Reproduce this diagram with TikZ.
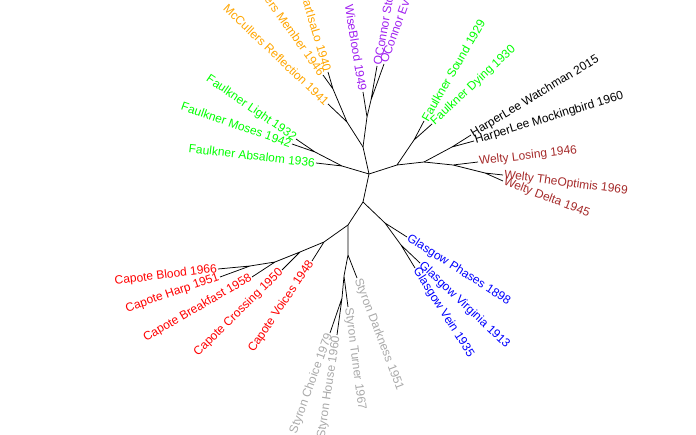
\documentclass[tikz,border=0pt]{standalone}
\usepackage{fontspec}
\setmainfont{Liberation Sans}
\definecolor{mcorange}{HTML}{FFA500}
\definecolor{ocpurple}{HTML}{A020F0}
\definecolor{fkgreen}{HTML}{00FF00}
\definecolor{wtbrown}{HTML}{A52A2A}
\definecolor{gwblue}{HTML}{0000FF}
\definecolor{cpred}{HTML}{FF0000}
\definecolor{stgray}{HTML}{A9A9A9}
\begin{document}
\begin{tikzpicture}[x=1pt,y=-1pt,
	branch/.style={black, line width=0.75pt},
	tiplab/.style={font=\fontsize{12}{14}\selectfont, inner sep=1pt}]
	\useasboundingbox (0,0) rectangle (696,435);
	\clip (0,0) rectangle (696,435);
	
	% 内部结点
	\coordinate (ctr) at (369,174);
	\coordinate (up) at (363,147);
	\coordinate (mc1) at (347,122);
	\coordinate (mc2) at (333,89);
	\coordinate (oc1) at (367,117);
	\coordinate (oc2) at (371,100);
	\coordinate (fk1) at (342,166);
	\coordinate (fk2) at (315,152);
	\coordinate (rt1) at (397,165);
	\coordinate (fk3) at (414,140);
	\coordinate (rt2) at (424,162);
	\coordinate (hl) at (452,147);
	\coordinate (wt1) at (453,165);
	\coordinate (wt2) at (485,173);
	\coordinate (dn) at (363,202);
	\coordinate (gw1) at (385,223);
	\coordinate (gw2) at (401,245);
	\coordinate (dn2) at (348,225);
	\coordinate (cp1) at (324,242);
	\coordinate (cp2) at (300,252);
	\coordinate (cp3) at (275,262);
	\coordinate (cp4) at (250,266);
	\coordinate (st1) at (348,255);
	\coordinate (st2) at (344,276);
	\coordinate (st3) at (342,298);
	
	% 叶结点
	\coordinate (mcRefl) at (328,104);
	\coordinate (mcMemb) at (323,75);
	\coordinate (mcHeart) at (328,72);
	\coordinate (ocWise) at (363,92);
	\coordinate (ocStor) at (377,66);
	\coordinate (ocEver) at (384,64);
	\coordinate (fkAbs) at (316,163);
	\coordinate (fkMos) at (292,144);
	\coordinate (fkLig) at (296,139);
	\coordinate (fkSou) at (424,121);
	\coordinate (fkDyi) at (432,124);
	\coordinate (hlWat) at (471,135);
	\coordinate (hlMock) at (474,141);
	\coordinate (wtLos) at (478,162);
	\coordinate (wtOpt) at (503,175);
	\coordinate (wtDel) at (503,181);
	\coordinate (gwPha) at (407,237);
	\coordinate (gwVir) at (420,263);
	\coordinate (gwVei) at (415,268);
	\coordinate (cpVoi) at (312,261);
	\coordinate (cpCro) at (282,270);
	\coordinate (cpBre) at (252,277);
	\coordinate (cpBlo) at (218,269);
	\coordinate (cpHar) at (220,277);
	\coordinate (stDar) at (357,278);
	\coordinate (stTur) at (348,307);
	\coordinate (stCho) at (330,333);
	\coordinate (stHou) at (337,335);
	
	% 树枝
	\draw[branch] (ctr) -- (up) (ctr) -- (fk1) (ctr) -- (rt1) (ctr) -- (dn);
	\draw[branch] (up) -- (mc1) (mc1) -- (mcRefl) (mc1) -- (mc2) (mc2) -- (mcMemb) (mc2) -- (mcHeart);
	\draw[branch] (up) -- (oc1) (oc1) -- (ocWise) (oc1) -- (oc2) (oc2) -- (ocStor) (oc2) -- (ocEver);
	\draw[branch] (fk1) -- (fkAbs) (fk1) -- (fk2) (fk2) -- (fkMos) (fk2) -- (fkLig);
	\draw[branch] (rt1) -- (fk3) (fk3) -- (fkSou) (fk3) -- (fkDyi) (rt1) -- (rt2);
	\draw[branch] (rt2) -- (hl) (hl) -- (hlWat) (hl) -- (hlMock);
	\draw[branch] (rt2) -- (wt1) (wt1) -- (wtLos) (wt1) -- (wt2) (wt2) -- (wtOpt) (wt2) -- (wtDel);
	\draw[branch] (dn) -- (gw1) (gw1) -- (gwPha) (gw1) -- (gw2) (gw2) -- (gwVir) (gw2) -- (gwVei);
	\draw[branch] (dn) -- (dn2) (dn2) -- (cp1) (cp1) -- (cpVoi) (cp1) -- (cp2) (cp2) -- (cpCro)
		(cp2) -- (cp3) (cp3) -- (cpBre) (cp3) -- (cp4) (cp4) -- (cpBlo) (cp4) -- (cpHar);
	\draw[branch] (dn2) -- (st1) (st1) -- (stDar) (st1) -- (st2) (st2) -- (stTur)
		(st2) -- (st3) (st3) -- (stCho) (st3) -- (stHou);
	
	% 标签
	\node[tiplab, text=mcorange, rotate=-43.5, anchor=east] (labRefl) at (mcRefl) {McCullers Reflection 1941};
	\node[tiplab, text=mcorange, rotate=-54.5, anchor=east] (labMemb) at (mcMemb) {McCullers Member 1946};
	\node[tiplab, text=mcorange, rotate=-73.6, anchor=east] (labHeart) at (mcHeart) {McCullers HeartIsaLo 1940};
	\node[tiplab, text=ocpurple, rotate=-80.9, anchor=east] (labWise) at (ocWise) {OConnor WiseBlood 1949};
	\node[tiplab, text=ocpurple, rotate=80, anchor=west] (labStor) at (ocStor) {OConnor Stories 1971};
	\node[tiplab, text=ocpurple, rotate=70, anchor=west] (labEver) at (ocEver) {OConnor Everything 1965};
	\node[tiplab, text=fkgreen, rotate=-6.6, anchor=east] (labAbs) at (fkAbs) {Faulkner Absalom 1936};
	\node[tiplab, text=fkgreen, rotate=-19.2, anchor=east] (labMos) at (fkMos) {Faulkner Moses 1942};
	\node[tiplab, text=fkgreen, rotate=-34.4, anchor=east] (labLig) at (fkLig) {Faulkner Light 1932};
	\node[tiplab, text=fkgreen, rotate=60, anchor=west] (labSou) at (fkSou) {Faulkner Sound 1929};
	\node[tiplab, text=fkgreen, rotate=43, anchor=west] (labDyi) at (fkDyi) {Faulkner Dying 1930};
	\node[tiplab, text=black, rotate=31, anchor=west] (labWat) at (hlWat) {HarperLee Watchman 2015};
	\node[tiplab, text=black, rotate=17, anchor=west] (labMock) at (hlMock) {HarperLee Mockingbird 1960};
	\node[tiplab, text=wtbrown, rotate=6.8, anchor=west] (labLos) at (wtLos) {Welty Losing 1946};
	\node[tiplab, text=wtbrown, rotate=-7.5, anchor=west] (labOpt) at (wtOpt) {Welty TheOptimis 1969};
	\node[tiplab, text=wtbrown, rotate=-21, anchor=west] (labDel) at (wtDel) {Welty Delta 1945};
	\node[tiplab, text=gwblue, rotate=-32.5, anchor=west] (labPha) at (gwPha) {Glasgow Phases 1898};
	\node[tiplab, text=gwblue, rotate=-43.5, anchor=west] (labVir) at (gwVir) {Glasgow Virginia 1913};
	\node[tiplab, text=gwblue, rotate=-57.5, anchor=west] (labVei) at (gwVei) {Glasgow Vein 1935};
	\node[tiplab, text=cpred, rotate=56, anchor=east] (labVoi) at (cpVoi) {Capote Voices 1948};
	\node[tiplab, text=cpred, rotate=44.5, anchor=east] (labCro) at (cpCro) {Capote Crossing 1950};
	\node[tiplab, text=cpred, rotate=30, anchor=east] (labBre) at (cpBre) {Capote Breakfast 1958};
	\node[tiplab, text=cpred, rotate=7, anchor=east] (labBlo) at (cpBlo) {Capote Blood 1966};
	\node[tiplab, text=cpred, rotate=19, anchor=east] (labHar) at (cpHar) {Capote Harp 1951};
	\node[tiplab, text=stgray, rotate=-69, anchor=west] (labDar) at (stDar) {Styron Darkness 1951};
	\node[tiplab, text=stgray, rotate=-82.5, anchor=west] (labTur) at (stTur) {Styron Turner 1967};
	\node[tiplab, text=stgray, rotate=70, anchor=east] (labCho) at (stCho) {Styron Choice 1979};
	\node[tiplab, text=stgray, rotate=81.5, anchor=east] (labHou) at (stHou) {Styron House 1960};
\end{tikzpicture}
\end{document}
